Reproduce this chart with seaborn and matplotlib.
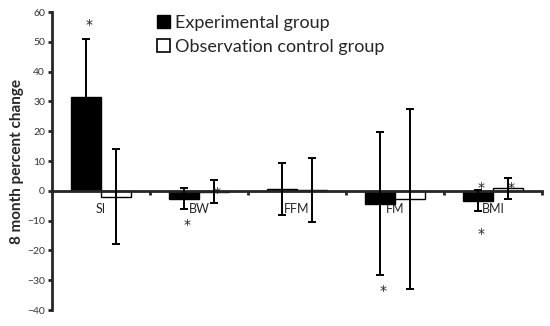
import matplotlib
matplotlib.use("Agg")
import matplotlib.pyplot as plt
import numpy as np
import pandas as pd
import seaborn as sns
from matplotlib.patches import Patch

categories = ["SI", "BW", "FFM", "FM", "BMI"]
groups = ["Experimental group", "Observation control group"]
exp_change = [31.5, -2.7, 0.5, -4.3, -3.3]
exp_err = [19.5, 3.5, 8.7, 24.0, 3.5]
obs_change = [-2.0, -0.3, 0.2, -2.6, 0.8]
obs_err = [16.0, 3.9, 10.8, 30.2, 3.5]
# significance markers: (category index, group index, y position)
stars = [(0, 0, 55.5), (1, 0, -11.5), (1, 1, -0.8), (3, 0, -33.5),
         (4, 0, 0.8), (4, 0, -14.5), (4, 1, 0.8)]

df = pd.DataFrame({
    "measure": categories * 2,
    "group": [groups[0]] * 5 + [groups[1]] * 5,
    "change": exp_change + obs_change,
    "err": exp_err + obs_err,
})

sns.set_style("ticks")
plt.rcParams["font.family"] = ["Lato", "DejaVu Sans"]

fig = plt.figure(figsize=(5.5, 3.26), dpi=100)
ax = fig.add_axes([0.0945, 0.049, 0.891, 0.914])

sns.barplot(data=df, x="measure", y="change", hue="group", order=categories,
            hue_order=groups, palette=["black", "white"], width=0.61,
            edgecolor="black", linewidth=1.0, errorbar=None, legend=False, ax=ax)

bars = ax.patches[:10]
centers = {}
for i, bar in enumerate(bars):
    g, c = divmod(i, 5)
    centers[(c, g)] = bar.get_x() + bar.get_width() / 2

xs = [centers[(c, g)] for g in range(2) for c in range(5)]
ax.errorbar(xs, df["change"], yerr=df["err"], fmt="none", ecolor="black",
            elinewidth=1.4, capsize=3, capthick=1.4, zorder=3)

for c, g, y in stars:
    ax.text(centers[(c, g)] + 0.03, y, "*", ha="center", va="center",
            fontsize=10, family="DejaVu Sans", color="#222222", zorder=4)

ax.set_ylim(-40, 60)
ax.set_yticks(np.arange(-40, 61, 10))
ax.set_xlim(-0.5, len(categories) - 0.5)
ax.spines["bottom"].set_position(("data", 0))
ax.spines["bottom"].set_linewidth(2)
ax.spines["left"].set_linewidth(2)
ax.spines["top"].set_visible(False)
ax.spines["right"].set_visible(False)

ax.set_xticks(np.arange(len(categories)))
ax.set_xticklabels(categories, fontsize=9)
ax.tick_params(axis="x", which="major", length=0, pad=9)
ax.set_xticks(np.arange(len(categories)) + 0.5, minor=True)
ax.tick_params(axis="x", which="minor", length=3, width=2, direction="out")
ax.tick_params(axis="y", length=3, width=2, labelsize=7.5, pad=2,
               labelcolor="#333333")
ax.set_xlabel("")
ax.set_ylabel("8 month percent change", fontsize=11, fontweight="bold", labelpad=2)

handles = [Patch(facecolor="black", edgecolor="black"),
           Patch(facecolor="white", edgecolor="black", linewidth=1.2)]
ax.legend(handles, groups, loc="upper left", bbox_to_anchor=(0.2, 1.015),
          frameon=False, fontsize=13, handlelength=0.7, handleheight=0.7,
          handletextpad=0.3, labelspacing=0.45, borderaxespad=0)

fig.savefig("out.png", dpi=100)
